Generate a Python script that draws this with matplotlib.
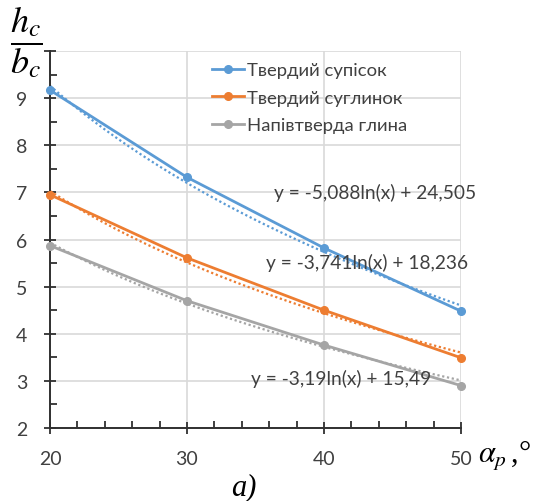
import numpy as np
import matplotlib
matplotlib.use("Agg")
from matplotlib import pyplot as plt
from matplotlib.ticker import MultipleLocator

# Values
angles = [20, 30, 40, 50]
supisok = [9.17, 7.32, 5.82, 4.48]
suhlynok = [6.95, 5.61, 4.50, 3.49]
hlyna = [5.87, 4.70, 3.76, 2.90]
names = ["Твердий супісок", "Твердий суглинок", "Напівтверда глина"]

# Logarithmic trendlines y = a*ln(x) + b, as printed on the chart
trend_a = [-5.088, -3.741, -3.19]
trend_b = [24.505, 18.236, 15.49]
trend_labels = ["y = -5,088ln(x) + 24,505",
                "y = -3,741ln(x) + 18,236",
                "y = -3,19ln(x) + 15,49"]

colors = ["#5B9BD5", "#ED7D31", "#A5A5A5"]

plt.rcParams['font.family'] = ['Lato', 'Open Sans', 'DejaVu Sans']
plt.rcParams['mathtext.fontset'] = 'stix'

W, H = 538, 502
fig = plt.figure(figsize=(W / 100, H / 100), dpi=100)
ax = fig.add_axes([50 / W, 1 - 429 / H, (461 - 50) / W, (429 - 52) / H])

series = [supisok, suhlynok, hlyna]
xs = np.linspace(20, 50, 100)
for vals, name, c, a, b in zip(series, names, colors, trend_a, trend_b):
    ax.plot(xs, a * np.log(xs) + b, color=c, lw=1.6, ls=(0, (1, 1.2)), zorder=2)
    ax.plot(angles, vals, color=c, lw=2, marker="o", ms=5.5, label=name,
            zorder=3, clip_on=False)

ax.set_xlim(20, 50)
ax.set_ylim(2, 10)
ax.xaxis.set_major_locator(MultipleLocator(10))
ax.xaxis.set_minor_locator(MultipleLocator(2))
ax.yaxis.set_major_locator(MultipleLocator(1))
ax.yaxis.set_minor_locator(MultipleLocator(0.5))
ax.set_yticks(range(2, 11))
ax.set_yticklabels([str(v) for v in range(2, 10)] + [""])

ax.grid(True, which="major", color="#D9D9D9", lw=1.2, zorder=0)
for s in ["top", "right"]:
    ax.spines[s].set_visible(False)
for s in ["left", "bottom"]:
    ax.spines[s].set_color("#303030")
    ax.spines[s].set_linewidth(1.4)
ax.tick_params(which="major", direction="inout", length=9, width=1.3,
               color="#303030", labelsize=14, labelcolor="#404040")
ax.tick_params(axis="x", which="major", pad=11)
ax.tick_params(axis="y", which="major", pad=12)
ax.tick_params(which="minor", direction="in", length=5, width=1.3, color="#303030")

ax.legend(loc="upper left", bbox_to_anchor=(155 / 411, 0.99), frameon=False,
          fontsize=13.3, handlelength=1.7, handletextpad=0.2, labelspacing=0.62,
          labelcolor="#404040", borderaxespad=0)

eq_pos = [(375, 193), (367, 263), (341, 379)]
for (px, py), t in zip(eq_pos, trend_labels):
    fig.text(px / W, 1 - py / H, t, ha="center", va="center", fontsize=13.8,
             color="#404040")

fig.text(26 / W, 1 - 42 / H, r"$\dfrac{h_c}{b_c}$", ha="center", va="center",
         fontsize=26)
fig.text(478 / W, 1 - 456 / H, r"$\alpha_p\,$,°", ha="left", va="center",
         fontsize=22, family="Liberation Serif")
fig.text(244 / W, 1 - 488 / H, "a)", ha="center", va="center", fontsize=22,
         family="Liberation Serif", style="italic")

fig.savefig("out.png", dpi=100)
